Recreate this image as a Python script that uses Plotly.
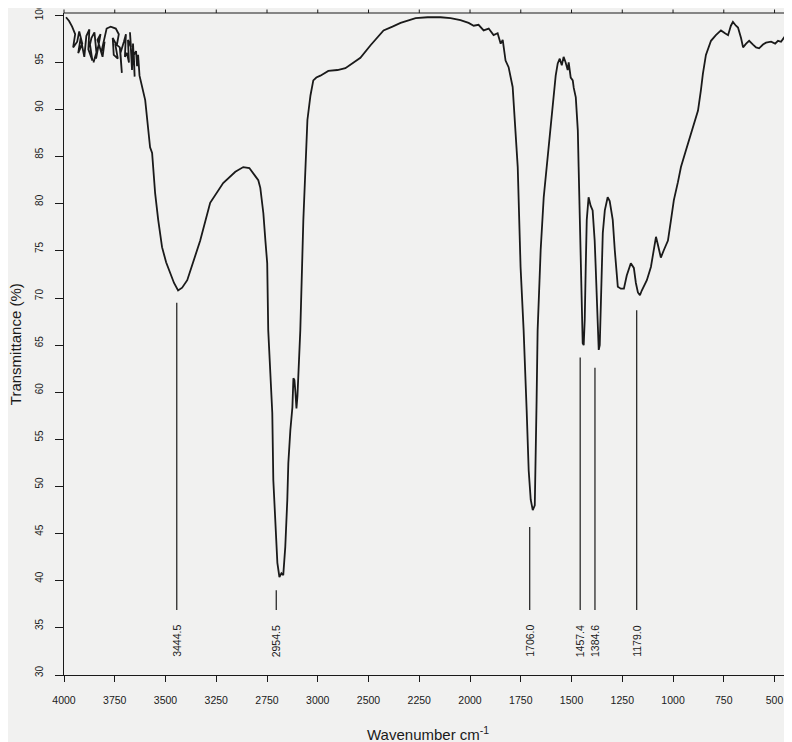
import plotly.graph_objects as go

# IR spectrum trace (wavenumber cm-1, transmittance %)
wavenumber = [3990, 3975, 3960, 3945, 3955, 3935, 3925, 3910, 3930, 3918, 3900, 3890, 3875, 3880,
              3860, 3872, 3865, 3850, 3840, 3855, 3830, 3842, 3820, 3835, 3810, 3800, 3815, 3790,
              3770, 3745, 3730, 3740, 3760, 3755, 3735, 3748, 3725, 3715, 3722, 3705, 3695, 3700,
              3690, 3680, 3685, 3670, 3675, 3665, 3660, 3652, 3656, 3645, 3640, 3635, 3628,
              3600, 3586, 3576, 3566,
              3551, 3536, 3517, 3497, 3477, 3458, 3438, 3418, 3393, 3364, 3329, 3280, 3216, 3156,
              3117, 3087, 3068, 3043, 3033, 3018, 3008, 2999, 2994, 2984, 2974, 2969, 2959, 2949,
              2939, 2929, 2920, 2915, 2910, 2900, 2895, 2885, 2875, 2870, 2865, 2860, 2855, 2850,
              2846, 2841, 2836, 2821, 2811, 2801, 2786, 2772, 2757, 2737, 2698, 2653, 2614, 2579,
              2540, 2491, 2426, 2382, 2342, 2268, 2209, 2145, 2096, 2047, 2007, 1982, 1958, 1933,
              1908, 1884, 1864, 1849, 1839, 1825, 1810, 1790, 1780, 1765, 1751, 1736, 1721, 1711,
              1701, 1691, 1681, 1677, 1672, 1667, 1652, 1637, 1622, 1612, 1593, 1578, 1568, 1558,
              1548, 1539, 1529, 1519, 1514, 1504, 1494, 1489, 1479, 1469, 1465, 1460, 1455, 1450,
              1445, 1440, 1435, 1430, 1425, 1416, 1406, 1396, 1386, 1381, 1376, 1371, 1366, 1361,
              1356, 1346, 1336, 1322, 1312, 1297, 1287, 1272, 1257, 1242, 1228, 1208, 1193, 1183,
              1173, 1163, 1154, 1144, 1129, 1109, 1094, 1084, 1074, 1060, 1045, 1025, 1010, 996,
              976, 961, 936, 912, 892, 877, 863, 853, 838, 823, 813, 789, 764, 744, 729, 715, 705,
              690, 680, 665, 655, 640, 625, 606, 591, 576, 557, 542, 517, 497, 483, 468, 453, 438,
              428, 418, 409]
transmittance = [99.8, 99.4, 98.8, 98.0, 96.6, 97.2, 98.3, 97.0, 96.0, 97.6, 95.6, 97.8, 98.5, 96.4,
                 95.2, 96.9, 97.6, 98.2, 96.0, 95.0, 96.8, 95.4, 98.0, 97.4, 95.6, 97.2, 96.2, 98.6,
                 98.8, 98.6, 98.0, 96.8, 97.6, 95.8, 95.4, 97.0, 96.6, 93.9, 96.0, 97.2, 98.0, 95.6,
                 96.0, 95.0, 97.4, 96.6, 98.2, 94.2, 97.0, 93.5, 95.8, 96.2, 94.6, 95.8, 93.6,
                 91.0, 87.8, 86.0, 85.4,
                 81.1, 78.3, 75.4, 73.8, 72.6, 71.6, 70.8, 71.1, 71.9, 73.8, 76.1, 80.1, 82.2, 83.4,
                 83.9, 83.8, 83.2, 82.5, 81.7, 79.0, 76.1, 73.7, 66.6, 61.3, 57.8, 50.7, 45.4, 41.9,
                 40.4, 40.8, 40.6, 42.2, 43.6, 48.6, 52.5, 56.0, 58.4, 61.5, 61.3, 60.0, 58.3, 59.6,
                 62.0, 64.5, 66.6, 78.3, 84.6, 88.9, 91.5, 93.1, 93.4, 93.6, 94.1, 94.2, 94.4, 94.9,
                 95.5, 96.8, 98.4, 98.8, 99.2, 99.7, 99.8, 99.8, 99.7, 99.5, 99.2, 98.9, 99.0, 98.4,
                 98.6, 97.9, 98.1, 97.0, 97.4, 95.2, 94.5, 92.4, 88.9, 83.9, 73.3, 66.6, 58.1, 51.7,
                 48.6, 47.5, 48.0, 51.7, 59.2, 66.6, 75.1, 80.7, 84.1, 86.7, 91.0, 93.6, 94.9, 95.4,
                 94.7, 95.6, 95.0, 94.2, 95.0, 93.4, 93.1, 92.3, 91.3, 87.8, 83.9, 78.3, 73.3, 67.7,
                 65.2, 65.0, 67.7, 73.3, 78.3, 80.7, 79.8, 79.3, 76.1, 73.3, 69.8, 66.6, 64.5, 65.0,
                 69.8, 76.9, 79.3, 80.7, 80.3, 78.3, 75.1, 71.2, 71.0, 71.0, 72.4, 73.7, 73.2, 71.6,
                 70.6, 70.3, 70.8, 71.2, 71.9, 73.3, 75.1, 76.5, 75.6, 74.3, 75.1, 76.1, 78.3, 80.4,
                 82.3, 83.9, 85.7, 87.5, 88.9, 89.9, 92.0, 93.8, 95.8, 96.8, 97.3, 97.9, 98.4, 98.1,
                 97.9, 98.9, 99.3, 98.9, 98.7, 97.6, 96.6, 97.0, 97.3, 96.9, 96.6, 96.5, 96.9, 97.1,
                 97.2, 97.0, 97.3, 97.2, 97.7, 98.1, 98.7, 98.4, 97.0]

# Peak markers
peak_wn = [3444.5, 2954.5, 1706.0, 1457.4, 1384.6, 1179.0]
peak_labels = ["3444.5", "2954.5", "1706.0", "1457.4", "1384.6", "1179.0"]
peak_line_top = [69.5, 39.0, 45.7, 63.7, 62.6, 68.7]
peak_line_bottom = [36.9, 36.9, 36.9, 36.9, 36.9, 36.9]
peak_label_y = 33.6

# Axis ticks (labels as printed, including the swapped 2750/3000)
x_tickvals = [4000, 3750, 3500, 3250, 3000, 2750, 2500, 2250, 2000, 1750, 1500, 1250, 1000, 750, 500]
x_ticktext = ["4000", "3750", "3500", "3250", "2750", "3000", "2500", "2250", "2000", "1750",
              "1500", "1250", "1000", "750", "500"]
y_tickvals = [30, 35, 40, 45, 50, 55, 60, 65, 70, 75, 80, 85, 90, 95, 100]

FONT = "Liberation Sans Narrow, Arial Narrow, Liberation Sans, Arial, sans-serif"
BG = "#f1f1f0"
INK = "#1a1a1a"

fig = go.Figure()
fig.add_trace(go.Scatter(x=wavenumber, y=transmittance, mode="lines",
                         line=dict(color=INK, width=1.8), hoverinfo="skip", showlegend=False))

lx, ly = [], []
for w, t, b in zip(peak_wn, peak_line_top, peak_line_bottom):
    lx += [w, w, None]
    ly += [t, b, None]
fig.add_trace(go.Scatter(x=lx, y=ly, mode="lines", line=dict(color=INK, width=1.2),
                         hoverinfo="skip", showlegend=False))

for w, lab in zip(peak_wn, peak_labels):
    fig.add_annotation(x=w, y=peak_label_y, xref="x", yref="y", text=lab, textangle=-90,
                       showarrow=False, font=dict(family=FONT, size=10.5, color=INK))

fig.add_annotation(x=0.5, y=-0.088, xref="paper", yref="paper", text="Wavenumber cm<sup>-1</sup>",
                   showarrow=False, yanchor="middle", font=dict(family=FONT, size=15, color=INK))
fig.add_annotation(x=-0.067, y=0.5, xref="paper", yref="paper", text="Transmittance (%)",
                   textangle=-90, showarrow=False, xanchor="center",
                   font=dict(family=FONT, size=15, color=INK))

# top frame line with upward tick marks at the x tick values
fig.add_shape(type="line", xref="paper", yref="paper", x0=0, x1=1, y0=1, y1=1,
              line=dict(color=INK, width=1.2), layer="above")
for tv in x_tickvals:
    fig.add_annotation(x=tv, y=1, xref="x", yref="paper", text="", showarrow=True,
                       arrowhead=0, arrowwidth=1, arrowcolor=INK, ax=0, ay=-7,
                       standoff=0, startstandoff=0)

fig.update_xaxes(range=[4000, 414], tickmode="array", tickvals=x_tickvals, ticktext=x_ticktext,
                 showline=True, linecolor=INK, linewidth=1.2, mirror=False,
                 ticks="outside", ticklen=6, tickcolor=INK, tickwidth=1,
                 showgrid=False, zeroline=False, ticklabelstandoff=9, automargin=False,
                 ticklabeloverflow="allow",
                 tickfont=dict(family=FONT, size=10.5, color=INK))
fig.update_yaxes(range=[30, 100.25], tickmode="array", tickvals=y_tickvals,
                 showline=True, linecolor=INK, linewidth=1.2,
                 ticks="outside", ticklen=8, tickcolor=INK, tickwidth=1,
                 showgrid=False, zeroline=False, tickangle=-90, ticklabelstandoff=8,
                 ticklabelshift=-2, automargin=False, ticklabeloverflow="allow",
                 tickfont=dict(family=FONT, size=10, color=INK))

# the page body adds an 8px margin; the figure is sized so the page does not overflow the window
fig.update_layout(width=784, height=734, margin=dict(l=56, r=0, t=5, b=67, autoexpand=False),
                  paper_bgcolor=BG, plot_bgcolor=BG, showlegend=False)

fig.write_html("out.html")
